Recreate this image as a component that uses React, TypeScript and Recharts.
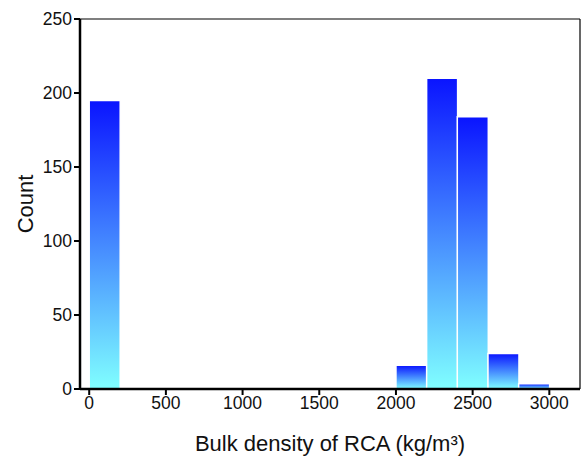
import React from 'react';
import { BarChart, Bar, XAxis, YAxis, ReferenceLine } from 'recharts';

const binCenters = [100, 300, 500, 700, 900, 1100, 1300, 1500, 1700, 1900, 2100, 2300, 2500, 2700, 2900];
const counts = [195, 0, 0, 0, 0, 0, 0, 0, 0, 0, 16, 210, 184, 24, 3.5];
const xTicks = [0, 500, 1000, 1500, 2000, 2500, 3000];
const yTicks = [0, 50, 100, 150, 200, 250];

const data = binCenters.map((x, i) => ({ x, count: counts[i] }));

const W = 586;
const H = 457;
const M = { top: 19, right: 6, bottom: 0, left: 0 };
const Y_AXIS_W = 80;
const X_DOMAIN: [number, number] = [-60, 3200];

const font = 'Liberation Sans, Arial, sans-serif';

export default function App() {
  return (
    <div style={{ position: 'absolute', left: 0, top: 0, width: W, height: H, background: '#fff' }}>
      <BarChart width={W} height={H} data={data} margin={M} barCategoryGap={0} barGap={0}>
        <defs>
          <linearGradient id="barGrad" x1="0" y1="0" x2="0" y2="1">
            <stop offset="0" stopColor="#0a14ff" />
            <stop offset="1" stopColor="#80ffff" />
          </linearGradient>
        </defs>
        <XAxis
          dataKey="x"
          type="number"
          domain={X_DOMAIN}
          allowDataOverflow
          ticks={xTicks}
          interval={0}
          height={68}
          stroke="#000"
          axisLine={{ stroke: '#000', strokeWidth: 2.5 }}
          tickLine={{ stroke: '#000', strokeWidth: 2 }}
          tickSize={6}
          tick={{ fill: '#111', fontSize: 17.5, fontFamily: font }}
          label={{ value: 'Bulk density of RCA (kg/m³)', position: 'insideBottom', offset: 6, fill: '#111', fontSize: 22, fontFamily: font }}
        />
        <YAxis
          type="number"
          domain={[0, 250]}
          ticks={yTicks}
          interval={0}
          width={Y_AXIS_W}
          stroke="#000"
          axisLine={{ stroke: '#000', strokeWidth: 2.5 }}
          tickLine={{ stroke: '#000', strokeWidth: 2 }}
          tickSize={6}
          tick={{ fill: '#111', fontSize: 17.5, fontFamily: font }}
          label={{ value: 'Count', angle: -90, position: 'insideLeft', offset: 25, fill: '#111', fontSize: 22, fontFamily: font, style: { textAnchor: 'middle' } }}
        />
        <ReferenceLine y={250} stroke="#000" strokeWidth={1.2} ifOverflow="visible" />
        <ReferenceLine x={3200} stroke="#000" strokeWidth={1.2} ifOverflow="visible" />
        <Bar
          dataKey="count"
          fill="url(#barGrad)"
          stroke="#fff"
          strokeWidth={1.5}
          isAnimationActive={false}
        />
      </BarChart>
    </div>
  );
}
